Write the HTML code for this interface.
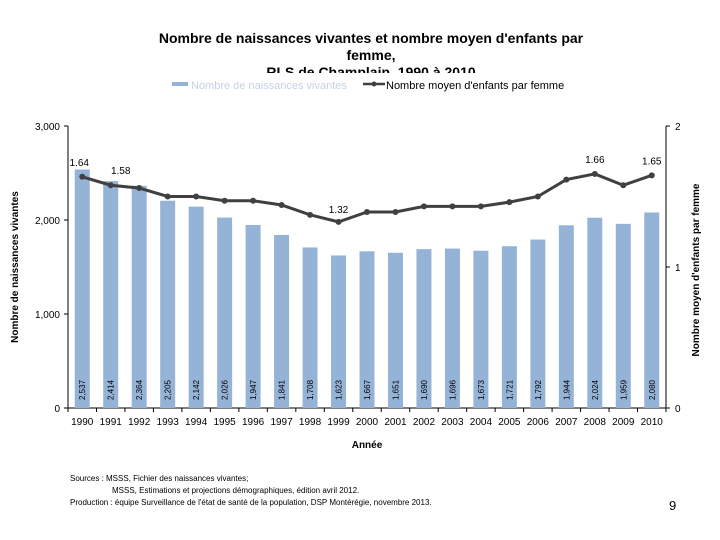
<!DOCTYPE html>
<html><head><meta charset="utf-8">
<style>
body{margin:0;background:#fff;font-family:"Liberation Sans",sans-serif;}
#wrap{position:relative;width:720px;height:540px;overflow:hidden;}
svg{position:absolute;left:0;top:0;}
</style></head>
<body><div id="wrap">
<svg id="c" width="720" height="540"></svg>
</div>
<script>
const years=["1990","1991","1992","1993","1994","1995","1996","1997","1998","1999","2000","2001","2002","2003","2004","2005","2006","2007","2008","2009","2010"];
const births=[2537,2414,2364,2205,2142,2026,1947,1841,1708,1623,1667,1651,1690,1696,1673,1721,1792,1944,2024,1959,2080];
const fertility=[1.64,1.58,1.56,1.50,1.50,1.47,1.47,1.44,1.37,1.32,1.39,1.39,1.43,1.43,1.43,1.46,1.50,1.62,1.66,1.58,1.65];
const leftTicks=[0,1000,2000,3000];
const leftTickLabels=["0","1,000","2,000","3,000"];
const rightTicks=[0,1,2];
const fertLabelIdx=[0,1,9,18,20];

const NS="http://www.w3.org/2000/svg";
const svg=document.getElementById('c');
const X0=68,X1=666,Y0=408,Y1=126;
const step=(X1-X0)/years.length;
const xc=i=>X0+step*(i+0.5);
const yL=v=>Y0-(v/3000)*(Y0-Y1);
const yR=v=>Y0-(v/2)*(Y0-Y1);
function el(t,a,txt){const e=document.createElementNS(NS,t);for(const k in a)e.setAttribute(k,a[k]);if(txt!==undefined)e.textContent=txt;svg.appendChild(e);return e;}

// title
const tl=["Nombre de naissances vivantes et nombre moyen d'enfants par","femme,","RLS de Champlain, 1990 à 2010"];
tl.forEach((s,i)=>{const t=el('text',{x:371,y:43+i*17,'text-anchor':'middle','font-size':14,'font-weight':'bold',fill:'#000'},s);

});
const mask=el('rect',{x:0,y:73,width:720,height:12,fill:'#fff'});


// legend
let g=el('rect',{x:172,y:82,width:16,height:4,fill:'#95b3d7'});


g=el('text',{x:191,y:89,'font-size':11,fill:'#c4d3e6'},'Nombre de naissances vivantes');


g=el('line',{x1:363,y1:84,x2:385,y2:84,stroke:'#404040','stroke-width':2.5});


g=el('circle',{cx:374,cy:84,r:2.5,fill:'#404040'});


g=el('text',{x:386,y:89,'font-size':11,fill:'#000'},"Nombre moyen d'enfants par femme");



// axes
g=el('line',{x1:X0,y1:Y1,x2:X0,y2:Y0,stroke:'#000','stroke-width':1});


g=el('line',{x1:X1,y1:Y1,x2:X1,y2:Y0,stroke:'#000','stroke-width':1});


g=el('line',{x1:X0,y1:Y0,x2:X1,y2:Y0,stroke:'#000','stroke-width':1});


leftTicks.forEach((v,i)=>{
 const tk=el('line',{x1:X0-4,y1:yL(v),x2:X0,y2:yL(v),stroke:'#000'});
 
 
 const t=el('text',{x:X0-8,y:yL(v)+4,'text-anchor':'end','font-size':10},leftTickLabels[i]);
 
 
});
rightTicks.forEach(v=>{
 const tk=el('line',{x1:X1,y1:yR(v),x2:X1+4,y2:yR(v),stroke:'#000'});
 
 
 const t=el('text',{x:X1+9,y:yR(v)+4,'font-size':10},String(v));
 
 
});
for(let i=0;i<=years.length;i++){
 const tk=el('line',{x1:X0+step*i,y1:Y0,x2:X0+step*i,y2:Y0+4,stroke:'#000'});
 
 
}
// bars
births.forEach((v,i)=>{
 const b=el('rect',{x:xc(i)-7.5,y:yL(v),width:15,height:Y0-yL(v),fill:'#95b3d7'});
 
 
 const lx=xc(i)+3,ly=Y0-8;
 const t=el('text',{x:lx,y:ly,'font-size':8,transform:`rotate(-90 ${lx} ${ly})`,fill:'#000'},v.toLocaleString('en-US'));
 
 
 const yt=el('text',{x:xc(i),y:Y0+17,'text-anchor':'middle','font-size':10},years[i]);
 
 
});
// line
const pts=fertility.map((v,i)=>xc(i)+','+yR(v)).join(' ');
g=el('polyline',{points:pts,fill:'none',stroke:'#404040','stroke-width':3});


fertility.forEach((v,i)=>{
 const c=el('circle',{cx:xc(i),cy:yR(v),r:3,fill:'#404040'});
 
 
});
fertLabelIdx.forEach(i=>{
 const t=el('text',{x:xc(i)+(i===0?-3:(i===1?10:0)),y:yR(fertility[i])-(i===9?9:11),'text-anchor':'middle','font-size':10},fertility[i].toFixed(2));
 
 
});
// axis titles
g=el('text',{x:0,y:0,'font-size':10,'font-weight':'bold',transform:'translate(18,267) rotate(-90)','text-anchor':'middle'},'Nombre de naissances vivantes');


g=el('text',{x:0,y:0,'font-size':10,'font-weight':'bold',transform:'translate(699,270) rotate(-90)','text-anchor':'middle'},"Nombre moyen d'enfants par femme");


g=el('text',{x:367,y:448,'text-anchor':'middle','font-size':10,'font-weight':'bold'},'Année');


// footnotes
const fn=[[70,481,"Sources : MSSS, Fichier des naissances vivantes;"],[112,493,"MSSS, Estimations et projections démographiques, édition avril 2012."],[70,505,"Production : équipe Surveillance de l'état de santé de la population, DSP Montérégie, novembre 2013."]];
fn.forEach(f=>{const t=el('text',{x:f[0],y:f[1],'font-size':8},f[2]);

});
g=el('text',{x:669,y:510,'font-size':13},'9');


</script>
</body></html>
